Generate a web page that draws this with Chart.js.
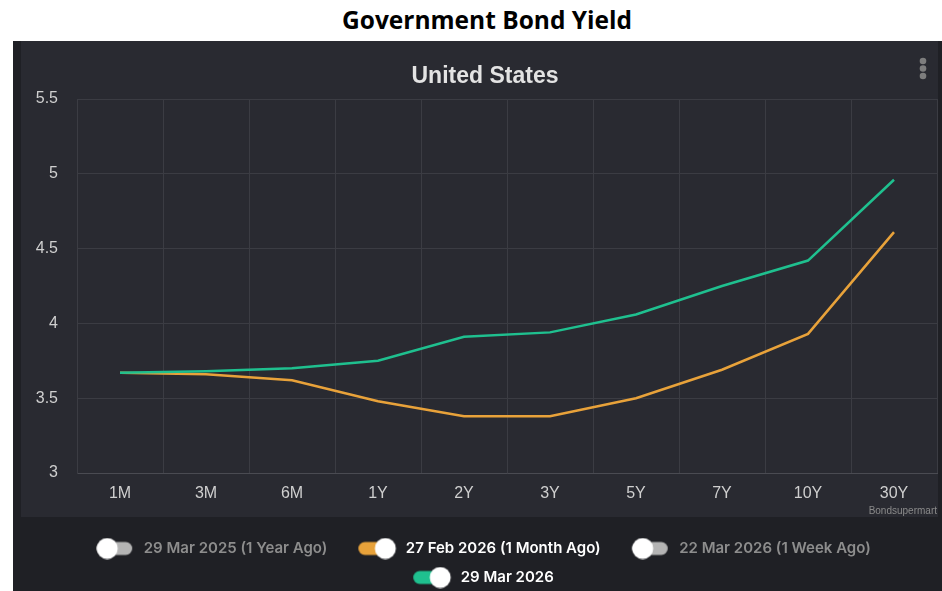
<!DOCTYPE html>
<html>
<head>
<meta charset="utf-8">
<script src="https://cdn.jsdelivr.net/npm/chart.js@4.4.1/dist/chart.umd.min.js"></script>
<style>
    html, body { margin: 0; padding: 0; background: #ffffff; overflow: hidden; }
    #page { position: relative; width: 942px; height: 591px; }
    #mainTitle {
        position: absolute; left: 32px; top: 4px; width: 910px;
        text-align: center; font: bold 24.5px "Open Sans", sans-serif; line-height: 32px; color: #000;
    }
    #outer { position: absolute; left: 13px; top: 41px; width: 929px; height: 550px; background: #1f2025; }
    #inner { position: absolute; left: 21px; top: 41px; width: 917px; height: 476px; background: #292a31; }
    #chart { position: absolute; left: 13px; top: 41px; }
</style>
</head>
<body>
<div id="page">
    <div id="mainTitle">Government Bond Yield</div>
    <div id="outer"></div>
    <div id="inner"></div>
    <canvas id="chart" width="929" height="554"></canvas>
</div>
<script>
// Tenors on the x axis
const tenors = ["1M", "3M", "6M", "1Y", "2Y", "3Y", "5Y", "7Y", "10Y", "30Y"];

// Yields (%)
const yields27Feb2026 = [3.67, 3.66, 3.62, 3.48, 3.38, 3.38, 3.50, 3.69, 3.93, 4.61];
const yields29Mar2026 = [3.67, 3.68, 3.70, 3.75, 3.91, 3.94, 4.06, 4.25, 4.42, 4.96];

// Series switched off in the legend: no line is shown for them
const yields29Mar2025 = [];
const yields22Mar2026 = [];

const seriesNames = ["29 Mar 2025 (1 Year Ago)", "27 Feb 2026 (1 Month Ago)", "22 Mar 2026 (1 Week Ago)", "29 Mar 2026"];
const yTicks = [3, 3.5, 4, 4.5, 5, 5.5];

// Build a little toggle switch to use as a legend marker
function makeToggle(color, on) {
    const c = document.createElement("canvas");
    c.width = 57;
    c.height = 22;
    const ctx = c.getContext("2d");
    ctx.fillStyle = on ? color : "#b4b4b4";
    ctx.beginPath();
    ctx.roundRect(17, 4.5, 36, 13, 6.5);
    ctx.fill();
    ctx.fillStyle = "#ffffff";
    ctx.beginPath();
    ctx.arc(on ? 44 : 28, 11, 10.5, 0, Math.PI * 2);
    ctx.fill();
    return c;
}

// Panel title, watermark and the menu dots
const extras = {
    id: "extras",
    afterDraw(chart) {
        const ctx = chart.ctx;
        const area = chart.chartArea;
        ctx.save();
        ctx.fillStyle = "#e3e3e3";
        ctx.font = 'bold 23px "Liberation Sans"';
        ctx.textAlign = "center";
        ctx.textBaseline = "middle";
        ctx.fillText("United States", 472, 36);

        ctx.fillStyle = "#8a8a8a";
        ctx.font = '10px "Liberation Sans"';
        ctx.textAlign = "right";
        ctx.fillText("Bondsupermart", area.right, area.bottom + 38);

        ctx.fillStyle = "#7d7d7d";
        [20, 27.5, 35].forEach((y) => {
            ctx.beginPath();
            ctx.arc(910, y, 3.3, 0, Math.PI * 2);
            ctx.fill();
        });
        ctx.restore();
    },
};

new Chart(document.getElementById("chart"), {
    type: "line",
    data: {
        labels: tenors,
        datasets: [
            { label: seriesNames[0], data: yields29Mar2025, hidden: true, toggleColor: "#b4b4b4", order: 3 },
            { label: seriesNames[1], data: yields27Feb2026, borderColor: "#e8a23a", toggleColor: "#e8a23a", order: 1 },
            { label: seriesNames[2], data: yields22Mar2026, hidden: true, toggleColor: "#b4b4b4", order: 2 },
            { label: seriesNames[3], data: yields29Mar2026, borderColor: "#1fc08f", toggleColor: "#1fc08f", order: 0 },
        ],
    },
    options: {
        responsive: false,
        animation: false,
        elements: {
            line: { borderWidth: 2.5, tension: 0 },
            point: { radius: 0 },
        },
        layout: { padding: { left: 0, right: 5, top: 58, bottom: 0 } },
        plugins: {
            tooltip: { enabled: false },
            title: { display: false },
            legend: {
                position: "bottom",
                onClick: null,
                labels: {
                    usePointStyle: true,
                    pointStyleWidth: 57,
                    padding: 14,
                    font: { family: "Inter", size: 15, weight: "600" },
                    generateLabels: (chart) =>
                        chart.data.datasets.map((ds, i) => ({
                            text: ds.label,
                            fontColor: ds.hidden ? "#8d8d8d" : "#ffffff",
                            pointStyle: makeToggle(ds.toggleColor, !ds.hidden),
                            hidden: false,
                            datasetIndex: i,
                            lineWidth: 0,
                            strokeStyle: "transparent",
                            fillStyle: "transparent",
                        })),
                },
            },
        },
        scales: {
            x: {
                offset: true,
                grid: { color: "#3b3c43", offset: true, drawTicks: false },
                border: { color: "#4a4b52" },
                ticks: {
                    color: "#cfcfcf",
                    padding: 11,
                    font: { family: "Liberation Sans", size: 16 },
                },
                afterFit: (scale) => { scale.height = 54; },
            },
            y: {
                min: 3,
                max: 5.5,
                grid: { color: "#3b3c43", drawTicks: false },
                border: { color: "#3b3c43" },
                ticks: {
                    color: "#cfcfcf",
                    padding: 19,
                    font: { family: "Liberation Sans", size: 16 },
                    callback: (v) => String(v),
                },
                afterBuildTicks: (scale) => { scale.ticks = yTicks.map((v) => ({ value: v })); },
                afterFit: (scale) => { scale.width = 64; },
            },
        },
    },
    plugins: [extras],
});
</script>
</body>
</html>
